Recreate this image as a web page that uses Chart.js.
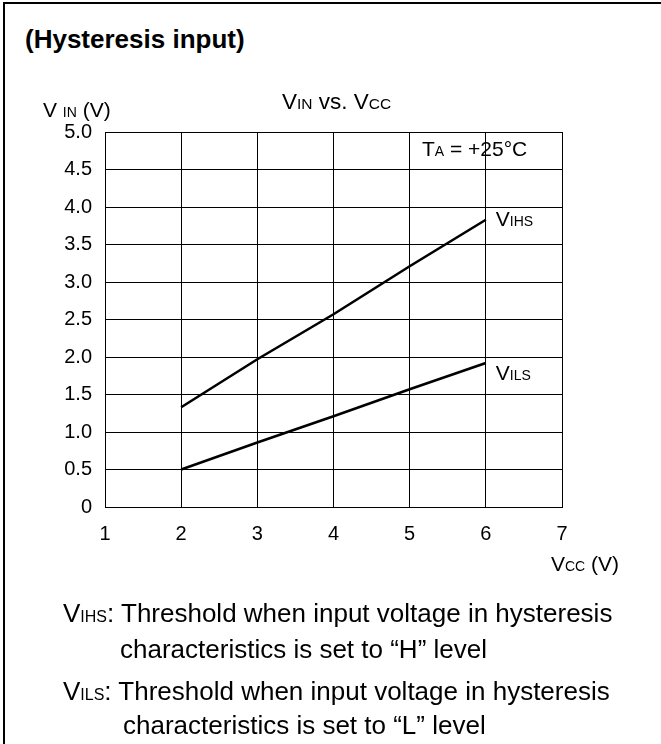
<!DOCTYPE html>
<html lang="en">
<head>
	<meta charset="UTF-8">
	<title>VIN vs. VCC (Hysteresis input)</title>
	<script src="https://cdn.jsdelivr.net/npm/chart.js@4.4.1/dist/chart.umd.min.js"></script>
	<style>
		body { margin: 0; background: #fff; color: #000; font-family: "Liberation Sans", Arial, sans-serif; }
		#page { position: relative; width: 661px; height: 744px; overflow: hidden; }
		#frame { position: absolute; left: 3px; top: 2px; width: 720px; height: 800px; border-left: 2px solid #000; border-top: 2px solid #000; }
		h1 { position: absolute; left: 25px; top: 26px; margin: 0; font-size: 26px; line-height: 1; font-weight: bold; white-space: nowrap; }
		#chartBox { position: absolute; left: 0; top: 0; }
		.note { position: absolute; font-size: 26px; line-height: 1; white-space: nowrap; }
		.note .s { font-size: 16px; }
	</style>
</head>
<body>
	<div id="page">
		<div id="frame"></div>
		<h1>(Hysteresis input)</h1>
		<div id="chartBox"><canvas id="grafico" width="661" height="600"></canvas></div>
		<div class="note" style="left:63px; top:600px;">V<span class="s">IHS</span>: Threshold when input voltage in hysteresis</div>
		<div class="note" style="left:120px; top:636px;">characteristics is set to “H” level</div>
		<div class="note" style="left:63px; top:678px;">V<span class="s">ILS</span>: Threshold when input voltage in hysteresis</div>
		<div class="note" style="left:123px; top:712px;">characteristics is set to “L” level</div>
	</div>
	<script>
		// valores
		const vcc = [2, 3, 4, 5, 6];
		const vihs = [1.33, 1.97, 2.57, 3.21, 3.83];
		const vils = [0.50, 0.86, 1.21, 1.57, 1.92];
		const yTickLabels = ['0', '0.5', '1.0', '1.5', '2.0', '2.5', '3.0', '3.5', '4.0', '4.5', '5.0'];
		const xTickLabels = ['1', '2', '3', '4', '5', '6', '7'];

		const FONT = '"Liberation Sans", Arial, sans-serif';

		// escreve texto com partes em tamanhos diferentes (V + subscrito)
		const drawParts = (ctx, x, y, parts) => {
			ctx.textBaseline = 'alphabetic';
			ctx.textAlign = 'left';
			parts.forEach(([txt, size]) => {
				ctx.font = size + 'px ' + FONT;
				ctx.fillText(txt, x, y);
				x += ctx.measureText(txt).width;
			});
		};

		const textos = {
			id: 'textos',
			afterDraw(chart) {
				const ctx = chart.ctx;
				const xs = chart.scales.x;
				const ys = chart.scales.y;
				const area = chart.chartArea;
				ctx.save();
				ctx.fillStyle = '#000';
				drawParts(ctx, 43, 117, [['V ', 21], ['IN', 14], [' (V)', 21]]);
				drawParts(ctx, 282, 109, [['V', 22.5], ['IN', 15.5], [' vs. V', 22.5], ['CC', 15.5]]);
				drawParts(ctx, area.right - 140, area.top + 24, [['T', 21], ['A', 14], [' = +25°C', 21]]);
				drawParts(ctx, area.right - 11, area.bottom + 64, [['V', 21], ['CC', 14], [' (V)', 21]]);
				const n = vcc.length - 1;
				drawParts(ctx, xs.getPixelForValue(vcc[n]) + 10, ys.getPixelForValue(vihs[n]) + 6, [['V', 21], ['IHS', 14]]);
				drawParts(ctx, xs.getPixelForValue(vcc[n]) + 10, ys.getPixelForValue(vils[n]) + 17, [['V', 21], ['ILS', 14]]);
				ctx.restore();
			}
		};

		const pontos = (ys) => vcc.map((x, i) => ({ x: x, y: ys[i] }));

		new Chart(document.querySelector('#grafico'), {
			type: 'line',
			data: {
				datasets: [
					{ label: 'VIHS', data: pontos(vihs), borderColor: '#000', borderWidth: 2.6, pointRadius: 0, tension: 0 },
					{ label: 'VILS', data: pontos(vils), borderColor: '#000', borderWidth: 2.6, pointRadius: 0, tension: 0 }
				]
			},
			options: {
				responsive: false,
				animation: false,
				devicePixelRatio: 1,
				layout: { padding: { left: 0, right: 99, top: 132, bottom: 53 } },
				plugins: { legend: { display: false }, tooltip: { enabled: false } },
				scales: {
					x: {
						type: 'linear',
						min: 1,
						max: 7,
						afterFit: (s) => { s.height = 40; },
						ticks: {
							stepSize: 1,
							padding: 15,
							color: '#000',
							font: { family: FONT, size: 20 },
							callback: (v) => xTickLabels[Math.round(v) - 1]
						},
						grid: { color: '#000', lineWidth: 1, drawTicks: false },
						border: { color: '#000', width: 1 }
					},
					y: {
						min: 0,
						max: 5,
						afterFit: (s) => { s.width = 105; },
						ticks: {
							stepSize: 0.5,
							padding: 13,
							color: '#000',
							font: { family: FONT, size: 20 },
							callback: (v) => yTickLabels[Math.round(v / 0.5)]
						},
						grid: { color: '#000', lineWidth: 1, drawTicks: false },
						border: { color: '#000', width: 1 }
					}
				}
			},
			plugins: [textos]
		});
	</script>
</body>
</html>
